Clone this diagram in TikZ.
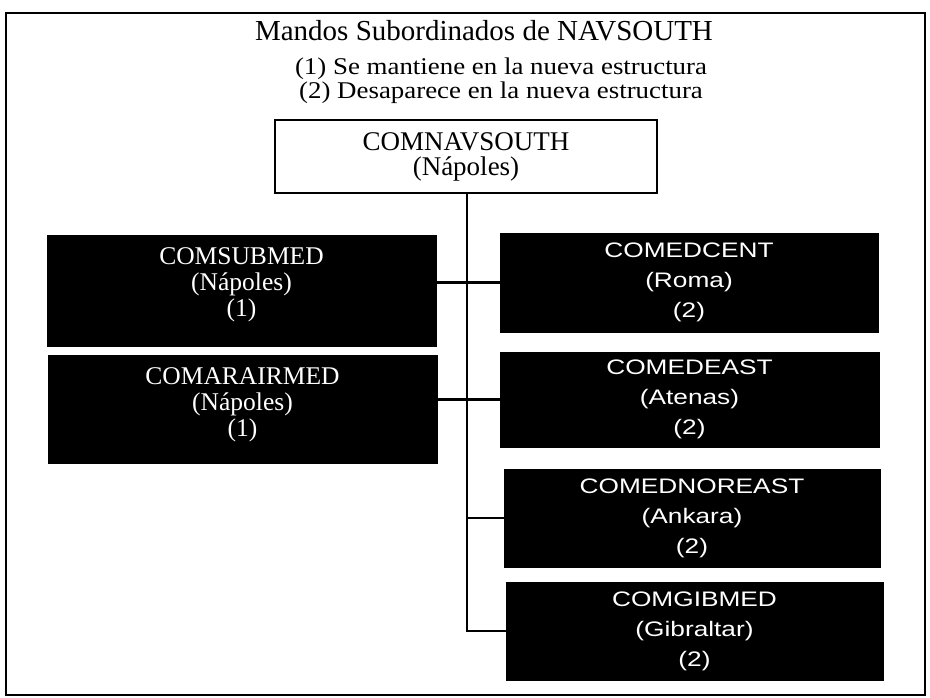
\documentclass[tikz,border=0pt]{standalone}
\usepackage{fontspec}
\usepackage{graphicx}
\setmainfont{Liberation Serif}
\newfontfamily\rsans{Liberation Sans}
\newcommand{\wideline}[1]{\scalebox{1.25}[1]{#1}}
\newcommand{\subline}[1]{\scalebox{1.12}[1]{#1}}
\begin{document}
\begin{tikzpicture}[x=1pt,y=-1pt,
  frame/.style={draw=black,line width=1.8pt},
  title/.style={anchor=base,inner sep=0pt,font=\fontsize{29}{30}\selectfont},
  subtitle/.style={anchor=base,inner sep=0pt,font=\fontsize{24}{26}\selectfont},
  topbox/.style={draw=black,line width=1.6pt,fill=white,align=center,inner sep=0pt,font=\fontsize{27}{25}\selectfont},
  leftbox/.style={draw=black,fill=black,inner sep=0pt},
  lefttext/.style={text=white,align=center,inner sep=0pt,font=\fontsize{25.5}{26}\selectfont},
  rightbox/.style={draw=black,fill=black,text=white,align=center,inner sep=0pt,font=\rsans\fontsize{21}{30}\selectfont},
  conn/.style={line width=2.6pt}]
\useasboundingbox (0,0) rectangle (930,698);
\draw[frame] (6,13) rectangle (925,695);

\node[title] (ttl) at (484,41) {Mandos Subordinados de NAVSOUTH};
\node[subtitle] (s1) at (501,75) {\subline{(1) Se mantiene en la nueva estructura}};
\node[subtitle] (s2) at (501,99) {\subline{(2) Desaparece en la nueva estructura}};

\node[topbox,minimum width=382pt,minimum height=73pt] (top) at (466,156.5) {COMNAVSOUTH\\(Nápoles)};

\node[leftbox,minimum width=389pt,minimum height=111pt] (sub) at (241.5,290.5) {};
\node[lefttext] (subt) at ([yshift=6pt]sub.center) {COMSUBMED\\(Nápoles)\\(1)};
\node[leftbox,minimum width=389pt,minimum height=108pt] (air) at (242.5,409) {};
\node[lefttext] (airt) at ([yshift=4pt]air.center) {COMARAIRMED\\(Nápoles)\\(1)};

\node[rightbox,minimum width=378pt,minimum height=99pt] (cent) at (689,282.5) {\wideline{COMEDCENT}\\\wideline{(Roma)}\\\wideline{(2)}};
\node[rightbox,minimum width=379pt,minimum height=95pt] (east) at (689.5,399.5) {\wideline{COMEDEAST}\\\wideline{(Atenas)}\\\wideline{(2)}};
\node[rightbox,minimum width=376pt,minimum height=98pt] (nore) at (692,518) {\wideline{COMEDNOREAST}\\\wideline{(Ankara)}\\\wideline{(2)}};
\node[rightbox,minimum width=377pt,minimum height=98pt] (gib) at (694.5,631) {\wideline{COMGIBMED}\\\wideline{(Gibraltar)}\\\wideline{(2)}};

\coordinate (spineend) at (467,631);
\draw[conn] (top.south -| spineend) -- (spineend) -- (gib.west);
\draw[conn] (sub.east |- cent.west) -- (cent.west);
\draw[conn] (air.east |- east.west) -- (east.west);
\draw[conn] (spineend |- nore.west) -- (nore.west);
\end{tikzpicture}
\end{document}
